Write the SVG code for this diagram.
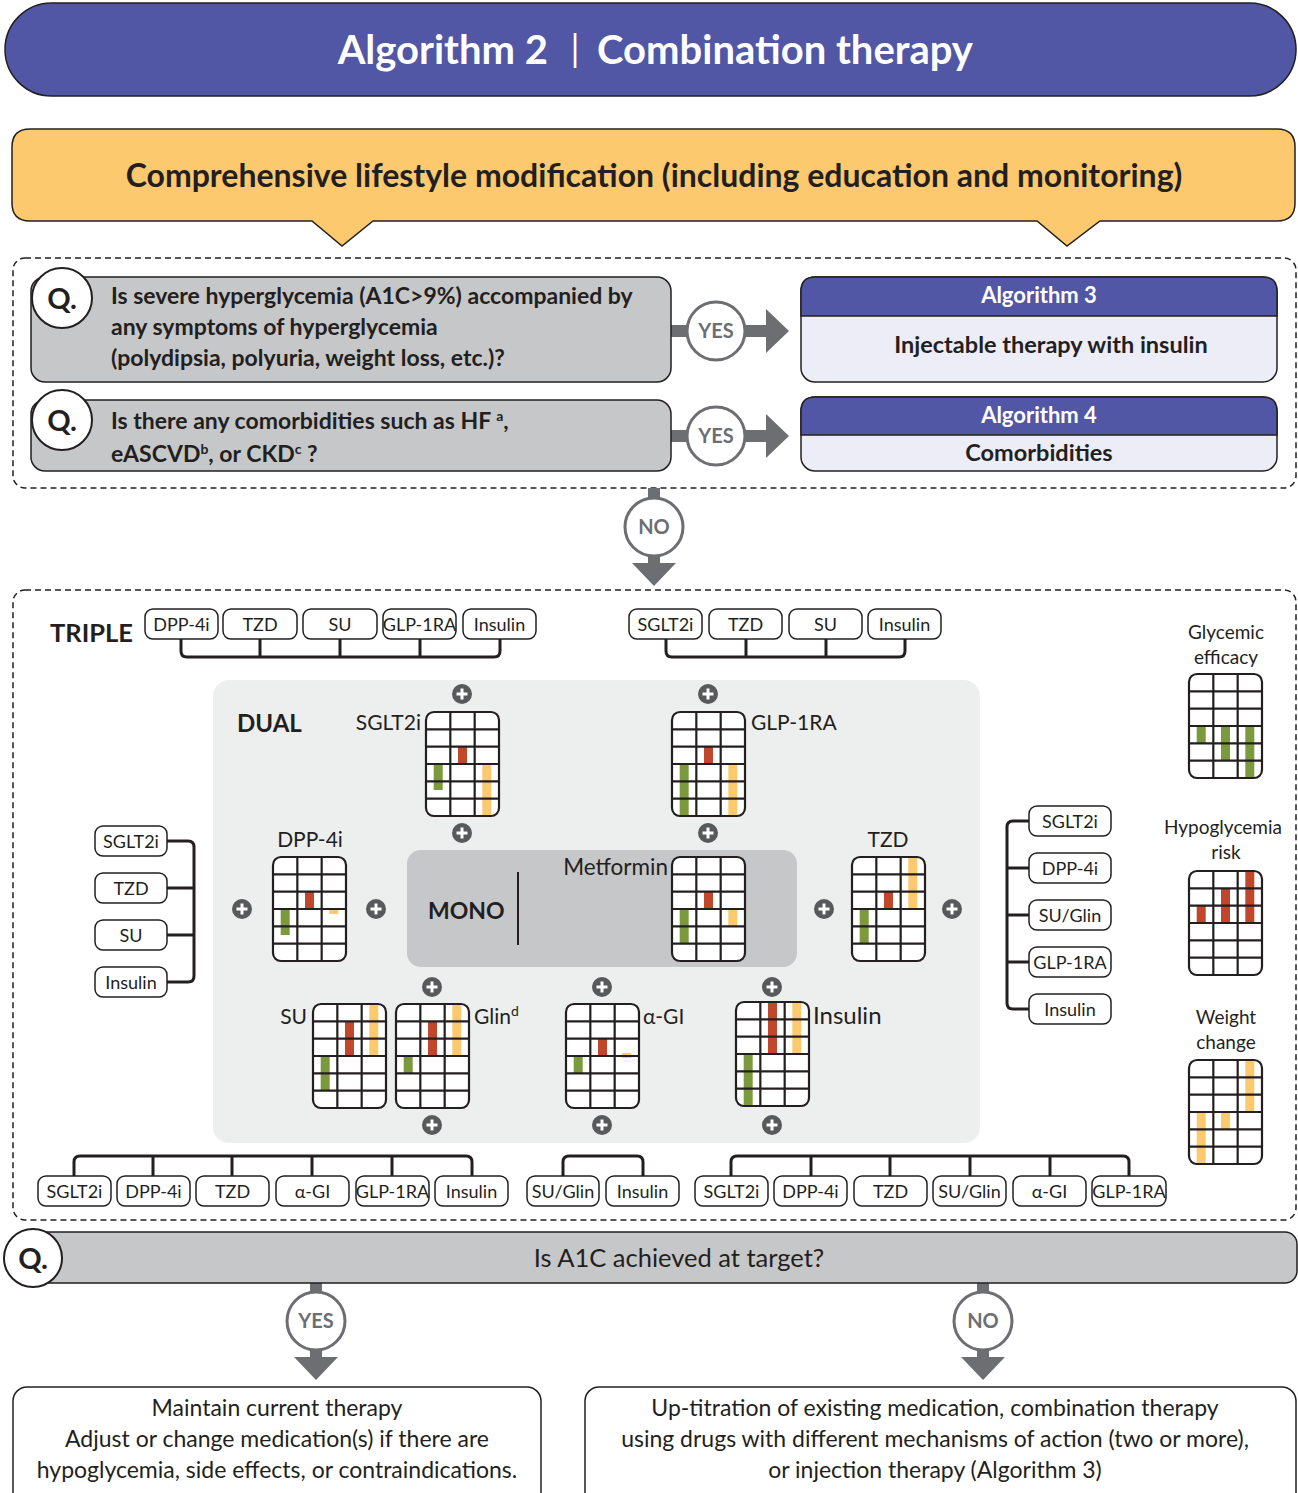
<svg xmlns="http://www.w3.org/2000/svg" xmlns:xlink="http://www.w3.org/1999/xlink" width="1298" height="1493" viewBox="0 0 1298 1493">
<style>
text{font-family:Lato,"Noto Sans","Liberation Sans",sans-serif;fill:#231f20}
.b{font-weight:700}
.sb{font-weight:700}
.w{fill:#fff}
.pill{fill:#fff;stroke:#231f20;stroke-width:1.5}
.pt{font-size:18px;text-anchor:middle}
.br{fill:none;stroke:#231f20;stroke-width:3;stroke-linejoin:round}
.dash{fill:none;stroke:#231f20;stroke-width:1.5;stroke-dasharray:6 4}
.qbox{fill:#c6c7c9;stroke:#231f20;stroke-width:1.5}
.qc{fill:#fff;stroke:#231f20;stroke-width:2}
.yc{fill:#fff;stroke:#6d6e71;stroke-width:3}
.yt{font-size:20px;font-weight:700;fill:#6d6e71;text-anchor:middle}
.ar{fill:#6d6e71}
.g{fill:#7b9a3d}.r{fill:#c1462c}.y{fill:#fdc96f}
.lab{font-size:21px}
.mid{text-anchor:middle}
.end{text-anchor:end}
</style>
<defs>
<rect id="gbg" width="73" height="104" rx="8" fill="#fff"/>
<g id="gl" fill="none" stroke="#231f20" stroke-width="2.2">
<path d="M24.33,0V104M48.67,0V104M0,17.33H73M0,34.67H73M0,52H73M0,69.33H73M0,86.67H73"/>
<rect width="73" height="104" rx="8"/>
</g>
<g id="plus"><circle r="10" fill="#58595b"/><path d="M-5.5,0H5.5M0,-5.5V5.5" stroke="#fff" stroke-width="3"/></g>
</defs>
<rect width="1298" height="1493" fill="#fff"/>

<g id="title">
<rect x="5" y="3" width="1291" height="93" rx="46.5" fill="#5156a5" stroke="#231f20" stroke-width="1.5"/>
<text x="548" y="64" class="b w end" font-size="40">Algorithm 2</text>
<text x="575" y="62" class="w mid" font-size="36">|</text>
<text x="597" y="64" class="b w" font-size="40">Combination therapy</text>
</g>

<g id="lifestyle">
<path d="M30,129H1277Q1295,129 1295,147V203Q1295,221 1277,221H1100L1067,246L1037,221H373L342,246L312,221H30Q12,221 12,203V147Q12,129 30,129Z" fill="#fdc96f" stroke="#231f20" stroke-width="1.5"/>
<text x="654" y="187" class="b mid" font-size="32">Comprehensive lifestyle modification (including education and monitoring)</text>
</g>

<rect id="frame1" x="13" y="258" width="1283" height="230" rx="12" class="dash"/>
<rect id="frame2" x="13" y="590" width="1283" height="630" rx="12" class="dash"/>

<g id="connectors">
<rect x="671" y="325" width="20" height="12" class="ar"/>
<rect x="742" y="325" width="26" height="12" class="ar"/>
<path d="M766,309L789,331L766,353Z" class="ar"/>
<rect x="671" y="430" width="20" height="12" class="ar"/>
<rect x="742" y="430" width="26" height="12" class="ar"/>
<path d="M766,414L789,436L766,458Z" class="ar"/>
<rect x="648" y="488" width="12" height="14" class="ar"/>
<rect x="648" y="552" width="12" height="14" class="ar"/>
<path d="M632,563H676L654,586Z" class="ar"/>
<rect x="310" y="1283" width="12" height="12" class="ar"/>
<rect x="310" y="1347" width="12" height="12" class="ar"/>
<path d="M294,1357H338L316,1380Z" class="ar"/>
<rect x="977" y="1283" width="12" height="12" class="ar"/>
<rect x="977" y="1347" width="12" height="12" class="ar"/>
<path d="M961,1357H1005L983,1380Z" class="ar"/>
<path class="br" d="M181,639V651Q181,657 187,657H494Q500,657 500,651V639M260,639V657M340,639V657M420,639V657"/>
<path class="br" d="M666,639V651Q666,657 672,657H899Q905,657 905,651V639M746,639V657M826,639V657"/>
<path class="br" d="M167,841H188Q194,841 194,847V976Q194,982 188,982H167M167,888H194M167,935H194"/>
<path class="br" d="M1029,821H1013Q1007,821 1007,827V1003Q1007,1009 1013,1009H1029M1007,868H1029M1007,915H1029M1007,962H1029"/>
<path class="br" d="M74,1176V1162Q74,1156 80,1156H466Q472,1156 472,1162V1176M153,1156V1176M232,1156V1176M312,1156V1176M392,1156V1176"/>
<path class="br" d="M563,1176V1162Q563,1156 569,1156H637Q643,1156 643,1162V1176"/>
<path class="br" d="M731,1176V1162Q731,1156 737,1156H1123Q1129,1156 1129,1162V1176M811,1156V1176M890,1156V1176M970,1156V1176M1050,1156V1176"/>
</g>

<g id="q1">
<rect x="31" y="277" width="640" height="105" rx="14" class="qbox"/>
<circle cx="62" cy="298" r="30" class="qc"/>
<text x="62" y="309" class="b mid" font-size="29">Q.</text>
<text x="111" y="304" class="sb" font-size="23">Is severe hyperglycemia (A1C&gt;9%) accompanied by</text>
<text x="111" y="335" class="sb" font-size="23">any symptoms of hyperglycemia</text>
<text x="111" y="366" class="sb" font-size="23">(polydipsia, polyuria, weight loss, etc.)?</text>
</g>
<g id="q2">
<rect x="31" y="400" width="640" height="71" rx="14" class="qbox"/>
<circle cx="62" cy="420" r="30" class="qc"/>
<text x="62" y="431" class="b mid" font-size="29">Q.</text>
<text x="111" y="429" class="sb" font-size="23">Is there any comorbidities such as HF <tspan dy="-8" font-size="14">a</tspan><tspan dy="8">,</tspan></text>
<text x="111" y="462" class="sb" font-size="23">eASCVD<tspan dy="-8" font-size="14">b</tspan><tspan dy="8">, or CKD</tspan><tspan dy="-8" font-size="14">c</tspan><tspan dy="8"> ?</tspan></text>
</g>
<g id="yes1"><circle cx="716" cy="331" r="29" class="yc"/><text x="716" y="338" class="yt">YES</text></g>
<g id="yes2"><circle cx="716" cy="436" r="29" class="yc"/><text x="716" y="443" class="yt">YES</text></g>
<g id="no1"><circle cx="654" cy="527" r="29" class="yc"/><text x="654" y="534" class="yt">NO</text></g>

<g id="alg3">
<rect x="801" y="277" width="476" height="105" rx="14" fill="#ecedf7" stroke="#231f20" stroke-width="1.5"/>
<path d="M801,316V291Q801,277 815,277H1263Q1277,277 1277,291V316Z" fill="#5156a5" stroke="#231f20" stroke-width="1.5"/>
<text x="1039" y="303" class="b w mid" font-size="22">Algorithm 3</text>
<text x="1051" y="353" class="b mid" font-size="23.5">Injectable therapy with insulin</text>
</g>
<g id="alg4">
<rect x="801" y="397" width="476" height="74" rx="14" fill="#ecedf7" stroke="#231f20" stroke-width="1.5"/>
<path d="M801,435V411Q801,397 815,397H1263Q1277,397 1277,411V435Z" fill="#5156a5" stroke="#231f20" stroke-width="1.5"/>
<text x="1039" y="423" class="b w mid" font-size="22">Algorithm 4</text>
<text x="1039" y="461" class="b mid" font-size="23.5">Comorbidities</text>
</g>

<text id="triple" x="50" y="642" class="b" font-size="25.5">TRIPLE</text>
<g id="triple-left">
<rect x="145" y="609" width="73" height="30" rx="8" class="pill"/><text x="181.5" y="631" class="pt">DPP-4i</text>
<rect x="223" y="609" width="74" height="30" rx="8" class="pill"/><text x="260" y="631" class="pt">TZD</text>
<rect x="303" y="609" width="74" height="30" rx="8" class="pill"/><text x="340" y="631" class="pt">SU</text>
<rect x="383" y="609" width="73" height="30" rx="8" class="pill"/><text x="419.5" y="631" class="pt">GLP-1RA</text>
<rect x="463" y="609" width="73" height="30" rx="8" class="pill"/><text x="499.5" y="631" class="pt">Insulin</text>
</g>
<g id="triple-right">
<rect x="629" y="609" width="73" height="30" rx="8" class="pill"/><text x="665.5" y="631" class="pt">SGLT2i</text>
<rect x="709" y="609" width="73" height="30" rx="8" class="pill"/><text x="745.5" y="631" class="pt">TZD</text>
<rect x="789" y="609" width="73" height="30" rx="8" class="pill"/><text x="825.5" y="631" class="pt">SU</text>
<rect x="868" y="609" width="73" height="30" rx="8" class="pill"/><text x="904.5" y="631" class="pt">Insulin</text>
</g>

<g id="dual">
<rect x="213" y="680" width="767" height="463" rx="16" fill="#edeeee"/>
<text x="237" y="732" class="b" font-size="24">DUAL</text>
</g>
<g id="mono">
<rect x="407" y="850" width="390" height="117" rx="14" fill="#c6c7c8"/>
<text x="428" y="919" class="b" font-size="23">MONO</text>
<path d="M518,872V945" stroke="#231f20" stroke-width="2"/>
<text x="668" y="875" class="end" font-size="22.5">Metformin</text>
</g>

<g id="plus-icons">
<use href="#plus" x="462" y="694"/><use href="#plus" x="708" y="694"/>
<use href="#plus" x="462" y="833"/><use href="#plus" x="708" y="833"/>
<use href="#plus" x="242" y="909"/><use href="#plus" x="376" y="909"/>
<use href="#plus" x="824" y="909"/><use href="#plus" x="952" y="909"/>
<use href="#plus" x="432" y="987"/><use href="#plus" x="602" y="987"/><use href="#plus" x="772" y="987"/>
<use href="#plus" x="432" y="1125"/><use href="#plus" x="602" y="1125"/><use href="#plus" x="772" y="1125"/>
</g>

<g id="sglt2i">
<text x="421" y="730" class="lab end">SGLT2i</text>
<g transform="translate(426,712)"><use href="#gbg"/>
<rect class="g" x="7.7" y="52" width="9" height="26"/><rect class="r" x="32" y="34.67" width="9" height="17.33"/><rect class="y" x="56.3" y="52" width="9" height="52"/>
<use href="#gl"/></g>
</g>
<g id="glp1ra">
<text x="751" y="730" class="lab">GLP-1RA</text>
<g transform="translate(672,712)"><use href="#gbg"/>
<rect class="g" x="7.7" y="52" width="9" height="52"/><rect class="r" x="32" y="34.67" width="9" height="17.33"/><rect class="y" x="56.3" y="52" width="9" height="52"/>
<use href="#gl"/></g>
</g>
<g id="dpp4i">
<text x="310" y="847" class="lab mid">DPP-4i</text>
<g transform="translate(273,857)"><use href="#gbg"/>
<rect class="g" x="7.7" y="52" width="9" height="26"/><rect class="r" x="32" y="34.67" width="9" height="17.33"/><rect class="y" x="56.3" y="52" width="9" height="5"/>
<use href="#gl"/></g>
</g>
<g id="metformin">
<g transform="translate(672,857)"><use href="#gbg"/>
<rect class="g" x="7.7" y="52" width="9" height="34.67"/><rect class="r" x="32" y="34.67" width="9" height="17.33"/><rect class="y" x="56.3" y="52" width="9" height="17.33"/>
<use href="#gl"/></g>
</g>
<g id="tzd">
<text x="888" y="847" class="lab mid">TZD</text>
<g transform="translate(852,857)"><use href="#gbg"/>
<rect class="g" x="7.7" y="52" width="9" height="34.67"/><rect class="r" x="32" y="34.67" width="9" height="17.33"/><rect class="y" x="56.3" y="0" width="9" height="52"/>
<use href="#gl"/></g>
</g>
<g id="su">
<text x="307" y="1024" class="lab end">SU</text>
<g transform="translate(313,1004)"><use href="#gbg"/>
<rect class="g" x="7.7" y="52" width="9" height="34.67"/><rect class="r" x="32" y="17.33" width="9" height="34.67"/><rect class="y" x="56.3" y="0" width="9" height="52"/>
<use href="#gl"/></g>
</g>
<g id="glin">
<text x="474" y="1024" class="lab">Glin<tspan dy="-8" font-size="14">d</tspan></text>
<g transform="translate(396,1004)"><use href="#gbg"/>
<rect class="g" x="7.7" y="52" width="9" height="17.33"/><rect class="r" x="32" y="17.33" width="9" height="34.67"/><rect class="y" x="56.3" y="0" width="9" height="52"/>
<use href="#gl"/></g>
</g>
<g id="agi">
<text x="643" y="1024" class="lab">α-GI</text>
<g transform="translate(566,1004)"><use href="#gbg"/>
<rect class="g" x="7.7" y="52" width="9" height="17.33"/><rect class="r" x="32" y="34.67" width="9" height="17.33"/><rect class="y" x="56.3" y="49" width="9" height="5"/>
<use href="#gl"/></g>
</g>
<g id="insulin">
<text x="813" y="1024" font-size="24">Insulin</text>
<g transform="translate(736,1002)"><use href="#gbg"/>
<rect class="g" x="7.7" y="52" width="9" height="52"/><rect class="r" x="32" y="0" width="9" height="52"/><rect class="y" x="56.3" y="0" width="9" height="52"/>
<use href="#gl"/></g>
</g>

<g id="dual-left">
<rect x="95" y="826" width="72" height="30" rx="8" class="pill"/><text x="131" y="848" class="pt">SGLT2i</text>
<rect x="95" y="873" width="72" height="30" rx="8" class="pill"/><text x="131" y="895" class="pt">TZD</text>
<rect x="95" y="920" width="72" height="30" rx="8" class="pill"/><text x="131" y="942" class="pt">SU</text>
<rect x="95" y="967" width="72" height="30" rx="8" class="pill"/><text x="131" y="989" class="pt">Insulin</text>
</g>
<g id="dual-right">
<rect x="1029" y="806" width="82" height="30" rx="8" class="pill"/><text x="1070" y="828" class="pt">SGLT2i</text>
<rect x="1029" y="853" width="82" height="30" rx="8" class="pill"/><text x="1070" y="875" class="pt">DPP-4i</text>
<rect x="1029" y="900" width="82" height="30" rx="8" class="pill"/><text x="1070" y="922" class="pt">SU/Glin</text>
<rect x="1029" y="947" width="82" height="30" rx="8" class="pill"/><text x="1070" y="969" class="pt">GLP-1RA</text>
<rect x="1029" y="994" width="82" height="30" rx="8" class="pill"/><text x="1070" y="1016" class="pt">Insulin</text>
</g>

<g id="legend-efficacy">
<text x="1226" y="639" class="mid" font-size="19">Glycemic</text>
<text x="1226" y="664" class="mid" font-size="19">efficacy</text>
<g transform="translate(1189,674)"><use href="#gbg"/>
<rect class="g" x="7.7" y="52" width="9" height="17.33"/><rect class="g" x="32" y="52" width="9" height="34.67"/><rect class="g" x="56.3" y="52" width="9" height="52"/>
<use href="#gl"/></g>
</g>
<g id="legend-hypo">
<text x="1223" y="834" class="mid" font-size="19">Hypoglycemia</text>
<text x="1226" y="859" class="mid" font-size="19">risk</text>
<g transform="translate(1189,871)"><use href="#gbg"/>
<rect class="r" x="7.7" y="34.67" width="9" height="17.33"/><rect class="r" x="32" y="17.33" width="9" height="34.67"/><rect class="r" x="56.3" y="0" width="9" height="52"/>
<use href="#gl"/></g>
</g>
<g id="legend-weight">
<text x="1226" y="1024" class="mid" font-size="19">Weight</text>
<text x="1226" y="1049" class="mid" font-size="19">change</text>
<g transform="translate(1189,1060)"><use href="#gbg"/>
<rect class="y" x="7.7" y="52" width="9" height="52"/><rect class="y" x="32" y="52" width="9" height="17.33"/><rect class="y" x="56.3" y="0" width="9" height="52"/>
<use href="#gl"/></g>
</g>

<g id="bottom-group1">
<rect x="38" y="1176" width="73" height="30" rx="8" class="pill"/><text x="74.5" y="1198" class="pt">SGLT2i</text>
<rect x="117" y="1176" width="73" height="30" rx="8" class="pill"/><text x="153.5" y="1198" class="pt">DPP-4i</text>
<rect x="196" y="1176" width="73" height="30" rx="8" class="pill"/><text x="232.5" y="1198" class="pt">TZD</text>
<rect x="276" y="1176" width="73" height="30" rx="8" class="pill"/><text x="312.5" y="1198" class="pt">α-GI</text>
<rect x="356" y="1176" width="73" height="30" rx="8" class="pill"/><text x="392.5" y="1198" class="pt">GLP-1RA</text>
<rect x="435" y="1176" width="73" height="30" rx="8" class="pill"/><text x="471.5" y="1198" class="pt">Insulin</text>
</g>
<g id="bottom-group2">
<rect x="527" y="1176" width="72" height="30" rx="8" class="pill"/><text x="563" y="1198" class="pt">SU/Glin</text>
<rect x="606" y="1176" width="73" height="30" rx="8" class="pill"/><text x="642.5" y="1198" class="pt">Insulin</text>
</g>
<g id="bottom-group3">
<rect x="695" y="1176" width="73" height="30" rx="8" class="pill"/><text x="731.5" y="1198" class="pt">SGLT2i</text>
<rect x="774" y="1176" width="73" height="30" rx="8" class="pill"/><text x="810.5" y="1198" class="pt">DPP-4i</text>
<rect x="854" y="1176" width="73" height="30" rx="8" class="pill"/><text x="890.5" y="1198" class="pt">TZD</text>
<rect x="933" y="1176" width="73" height="30" rx="8" class="pill"/><text x="969.5" y="1198" class="pt">SU/Glin</text>
<rect x="1013" y="1176" width="73" height="30" rx="8" class="pill"/><text x="1049.5" y="1198" class="pt">α-GI</text>
<rect x="1092" y="1176" width="74" height="30" rx="8" class="pill"/><text x="1129" y="1198" class="pt">GLP-1RA</text>
</g>

<g id="q3">
<rect x="30" y="1232" width="1267" height="51" rx="12" class="qbox"/>
<circle cx="33" cy="1258" r="29" class="qc"/>
<text x="33" y="1269" class="b mid" font-size="29">Q.</text>
<text x="679" y="1267" class="mid" font-size="25.5">Is A1C achieved at target?</text>
</g>
<g id="yes3"><circle cx="316" cy="1321" r="29" class="yc"/><text x="316" y="1328" class="yt">YES</text></g>
<g id="no2"><circle cx="983" cy="1321" r="29" class="yc"/><text x="983" y="1328" class="yt">NO</text></g>

<g id="maintain">
<rect x="13" y="1387" width="528" height="120" rx="14" fill="#fff" stroke="#231f20" stroke-width="1.5"/>
<text x="277" y="1416" class="mid" font-size="23">Maintain current therapy</text>
<text x="277" y="1447" class="mid" font-size="23">Adjust or change medication(s) if there are</text>
<text x="277" y="1478" class="mid" font-size="23">hypoglycemia, side effects, or contraindications.</text>
</g>
<g id="uptitrate">
<rect x="585" y="1387" width="711" height="120" rx="14" fill="#fff" stroke="#231f20" stroke-width="1.5"/>
<text x="935" y="1416" class="mid" font-size="23">Up-titration of existing medication, combination therapy</text>
<text x="935" y="1447" class="mid" font-size="23">using drugs with different mechanisms of action (two or more),</text>
<text x="935" y="1478" class="mid" font-size="23">or injection therapy (Algorithm 3)</text>
</g>
</svg>
